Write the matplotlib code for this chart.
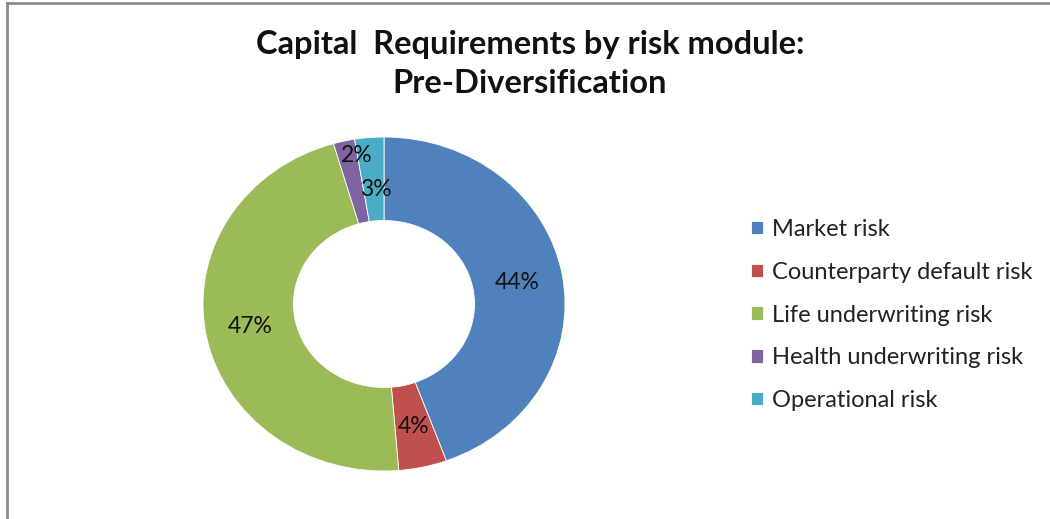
import numpy as np
import matplotlib
matplotlib.use("Agg")
import matplotlib.pyplot as plt
from matplotlib.lines import Line2D

# data
labels = ['Market risk', 'Counterparty default risk', 'Life underwriting risk',
          'Health underwriting risk', 'Operational risk']
values = [44.4, 4.3, 46.8, 1.9, 2.6]
colors = ['#4F81BD', '#C0504D', '#9BBB59', '#8064A2', '#4BACC6']
title = 'Capital  Requirements by risk module:\nPre-Diversification'

# label distance from center per wedge (small slices nudged like Excel does)
label_radius = [0.75, 0.75, 0.75, 0.9, 0.69]
label_shift = [0, 0, 0, -3, -1]   # degrees

plt.rcParams['font.family'] = ['Lato', 'DejaVu Sans']

fig = plt.figure(figsize=(10.5, 5.19), dpi=100)
W, H = 1050, 519
# donut box in pixels (outer ellipse 203..565 x 137..471)
ax = fig.add_axes([203 / W, (H - 471) / H, 362 / W, 334 / H])

wedges, _ = ax.pie(values, colors=colors, startangle=90, counterclock=False,
                   radius=1.0, wedgeprops=dict(width=0.5, edgecolor='white', linewidth=0.6))
ax.set_aspect('auto')
ax.set_xlim(-1, 1)
ax.set_ylim(-1, 1)

total = sum(values)
start = 90.0
for v, r, s in zip(values, label_radius, label_shift):
    mid = start - v / total * 360 / 2 + s
    start -= v / total * 360
    x = r * np.cos(np.radians(mid))
    y = r * np.sin(np.radians(mid))
    ax.text(x, y, f'{round(v / total * 100):.0f}%', ha='center', va='center',
            fontsize=16.5, color='#111111')

fig.text(530 / W, 1 - 64 / H, title, ha='center', va='center', fontsize=23.5,
         fontweight='bold', linespacing=1.38, color='#111111')

fig.legend(wedges, labels, loc='center left', bbox_to_anchor=(751 / W, 1 - 315 / H),
           frameon=False, fontsize=17, handlelength=0.5, handleheight=0.5,
           handletextpad=0.4, labelspacing=0.92, borderaxespad=0, borderpad=0,
           labelcolor='#222222')

# chart area border (top and left visible)
fig.add_artist(Line2D([7 / W, 7 / W], [0, 1 - 3 / H], color='#8c8c8c', lw=2,
                      transform=fig.transFigure))
fig.add_artist(Line2D([7 / W, 1], [1 - 3 / H, 1 - 3 / H], color='#8c8c8c', lw=2,
                      transform=fig.transFigure))

fig.savefig('out.png', dpi=100)
